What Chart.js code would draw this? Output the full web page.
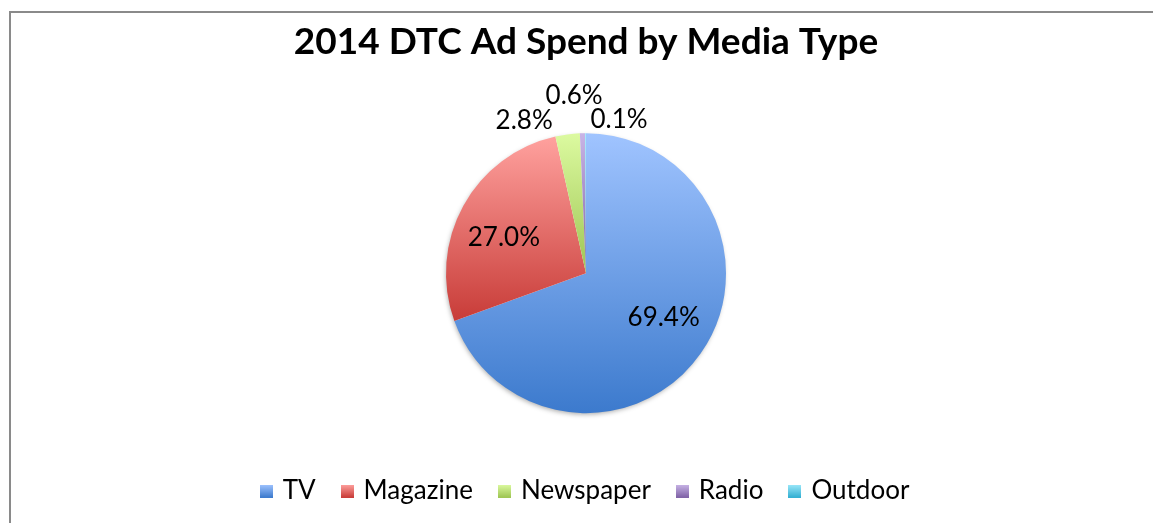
<!DOCTYPE html>
<html>
<head>
<meta charset="utf-8">
<script src="https://cdn.jsdelivr.net/npm/chart.js@4.4.1/dist/chart.umd.min.js"></script>
<style>
  html, body { margin: 0; padding: 0; background: #fff; overflow: hidden; }
  #wrap { position: absolute; left: 0; top: 0; width: 1153px; height: 523px; }
  #frame {
    position: absolute; left: 9px; top: 11px; width: 1300px; height: 700px;
    border-left: 2px solid #8a8a8a; border-top: 2px solid #8a8a8a;
    pointer-events: none;
  }
</style>
</head>
<body>
<div id="wrap"><canvas id="pieChart"></canvas></div>
<div id="frame"></div>
<script>
const mediaTypes = ['TV', 'Magazine', 'Newspaper', 'Radio', 'Outdoor'];
const spendShare = [69.4, 27.0, 2.8, 0.6, 0.1];

// top / bottom colour of each slice's vertical gradient
const topColors = ['#a0c4ff', '#ffa19e', '#dcfaa0', '#c8b4e6', '#9ce8fa'];
const bottomColors = ['#3c7acd', '#c83c38', '#9ec553', '#7f62a6', '#32afd2'];

const FONT = 'Lato';
const PIE_RADIUS = 140;

// vertical extent of a pie slice, angles measured clockwise from 12 o'clock
function sliceYRange(cy, r, a0, a1) {
    const ys = [cy, cy - r * Math.cos(a0), cy - r * Math.cos(a1)];
    for (let k = 0; k <= 4; k++) {
        const a = k * Math.PI;
        if (a > a0 && a < a1) ys.push(cy - r * Math.cos(a));
    }
    return [Math.min(...ys), Math.max(...ys)];
}

function sliceFill(context) {
    const chart = context.chart;
    const area = chart.chartArea;
    const i = context.dataIndex;
    if (!area) return topColors[i];
    const cy = (area.top + area.bottom) / 2;
    const total = spendShare.reduce((s, v) => s + v, 0);
    let before = 0;
    for (let k = 0; k < i; k++) before += spendShare[k];
    const a0 = before / total * 2 * Math.PI;
    const a1 = (before + spendShare[i]) / total * 2 * Math.PI;
    const [y0, y1] = sliceYRange(cy, PIE_RADIUS, a0, a1);
    const g = chart.ctx.createLinearGradient(0, y0, 0, y1 + 0.01);
    g.addColorStop(0, topColors[i]);
    g.addColorStop(1, bottomColors[i]);
    return g;
}

function legendSwatch(i) {
    const c = document.createElement('canvas');
    c.width = 13; c.height = 13;
    const x = c.getContext('2d');
    const g = x.createLinearGradient(0, 0, 0, 13);
    g.addColorStop(0, topColors[i]);
    g.addColorStop(1, bottomColors[i]);
    x.fillStyle = g;
    x.fillRect(0, 0, 13, 13);
    return c;
}
const swatches = mediaTypes.map((_, i) => legendSwatch(i));

// soft shadow under the pie
const pieShadow = {
    id: 'pieShadow',
    beforeDatasetsDraw(chart) {
        const arc = chart.getDatasetMeta(0).data[0];
        if (!arc) return;
        const {x, y, outerRadius} = arc.getProps(['x', 'y', 'outerRadius'], true);
        const ctx = chart.ctx;
        ctx.save();
        ctx.shadowColor = 'rgba(0,0,0,0.35)';
        ctx.shadowBlur = 5;
        ctx.shadowOffsetX = -1;
        ctx.shadowOffsetY = 2;
        ctx.fillStyle = '#fff';
        ctx.beginPath();
        ctx.arc(x, y, outerRadius - 1, 0, Math.PI * 2);
        ctx.fill();
        ctx.restore();
    }
};

// percentage labels: inside for big slices, above the pie for thin ones
const outsidePlacement = {
    2: {align: 'right', dx: -13, dy: 0},
    3: {align: 'center', dx: -8, dy: -24},
    4: {align: 'left', dx: 5, dy: 0}
};
const sliceLabels = {
    id: 'sliceLabels',
    afterDatasetsDraw(chart) {
        const ctx = chart.ctx;
        const meta = chart.getDatasetMeta(0);
        ctx.save();
        ctx.font = `26px ${FONT}`;
        ctx.fillStyle = '#000';
        ctx.textBaseline = 'middle';
        meta.data.forEach((arc, i) => {
            const p = arc.getProps(['x', 'y', 'startAngle', 'endAngle', 'outerRadius'], true);
            const mid = (p.startAngle + p.endAngle) / 2;
            const text = spendShare[i].toFixed(1) + '%';
            const place = outsidePlacement[i];
            if (!place) {
                const d = p.outerRadius * 0.64;
                const a = mid - 0.09;
                ctx.textAlign = 'center';
                ctx.fillText(text, p.x + Math.cos(a) * d, p.y + Math.sin(a) * d);
            } else {
                const d = p.outerRadius + 14;
                ctx.textAlign = place.align;
                ctx.fillText(text, p.x + Math.cos(mid) * d + place.dx, p.y + Math.sin(mid) * d + place.dy);
            }
        });
        ctx.restore();
    }
};

const chart = new Chart(document.getElementById('pieChart'), {
    type: 'pie',
    data: {
        labels: mediaTypes,
        datasets: [{
            data: spendShare,
            backgroundColor: sliceFill,
            borderWidth: 0,
            radius: PIE_RADIUS
        }]
    },
    options: {
        responsive: true,
        maintainAspectRatio: false,
        animation: false,
        layout: {
            padding: {top: 10, bottom: 9, left: 19, right: 0}
        },
        plugins: {
            title: {
                display: true,
                text: '2014 DTC Ad Spend by Media Type',
                color: '#000',
                font: {family: FONT, size: 37, weight: 'bold'},
                padding: {top: 10, bottom: 32}
            },
            legend: {
                position: 'bottom',
                labels: {
                    color: '#000',
                    font: {family: FONT, size: 26},
                    boxWidth: 13,
                    boxHeight: 13,
                    pointStyleWidth: 7,
                    padding: 28,
                    usePointStyle: true,
                    generateLabels: (c) => mediaTypes.map((name, i) => ({
                        text: name,
                        pointStyle: swatches[i],
                        fillStyle: topColors[i],
                        strokeStyle: 'transparent',
                        lineWidth: 0,
                        hidden: false,
                        index: i
                    }))
                }
            },
            tooltip: {enabled: false}
        }
    },
    plugins: [pieShadow, sliceLabels]
});
</script>
</body>
</html>
